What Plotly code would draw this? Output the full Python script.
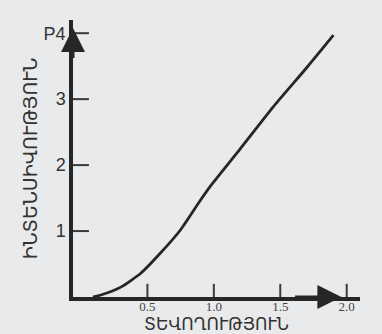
import plotly.graph_objects as go

# data
T = [0.09, 0.15, 0.30, 0.45, 0.60, 0.75, 0.90, 0.97, 1.20, 1.45, 1.70, 1.90]
P = [0.00, 0.03, 0.15, 0.36, 0.67, 1.02, 1.47, 1.67, 2.25, 2.89, 3.48, 3.97]
x_ticks = [0.5, 1.0, 1.5, 2.0]
x_tick_text = ["0.5", "1.0", "1.5", "2.0"]
y_ticks = [1, 2, 3, 4]
y_tick_text = ["1", "2", "3", "P4"]
x_title = "ՏԵՎՈՂՈՒԹՅՈՒՆ"
y_title = "ԻՆՏԵՆՍԻՎՈՒԹՅՈՒՆ"

ink = "#262626"
tick_ink = "#3a3a3a"
bg = "#e9eaec"
x0_axis = -0.06

fig = go.Figure()
fig.add_trace(go.Scatter(x=T, y=P, mode="lines",
                         line=dict(color=ink, width=2.8, shape="spline", smoothing=0.6),
                         hoverinfo="skip", showlegend=False))

# tick marks drawn from the tick arrays, pointing into the plot like the original
for v in x_ticks:
    fig.add_trace(go.Scatter(x=[v, v], y=[0, 0.2], mode="lines",
                             line=dict(color=tick_ink, width=2),
                             hoverinfo="skip", showlegend=False))
for v in y_ticks:
    fig.add_trace(go.Scatter(x=[x0_axis, x0_axis + 0.12], y=[v, v], mode="lines",
                             line=dict(color=tick_ink, width=2),
                             hoverinfo="skip", showlegend=False))

fig.update_layout(
    width=382, height=334,
    margin=dict(l=73, r=22, t=20, b=37),
    paper_bgcolor=bg, plot_bgcolor=bg,
    xaxis=dict(range=[x0_axis, 2.1], showgrid=False, zeroline=False, automargin=False,
               showline=True, linecolor=ink, linewidth=3.5, ticks="",
               tickvals=x_ticks, ticktext=x_tick_text, ticklabelstandoff=-5,
               tickfont=dict(family="Liberation Serif", size=13, color="#444"),
               title=dict(text=x_title, standoff=9,
                          font=dict(family="DejaVu Sans", size=17, color="#333"))),
    yaxis=dict(range=[0, 4.2], showgrid=False, zeroline=False, automargin=False,
               showline=True, linecolor=ink, linewidth=3.5, ticks="",
               tickvals=y_ticks, ticktext=y_tick_text,
               tickfont=dict(family="Liberation Sans", size=18, color="#333"),
               title=dict(text=y_title, standoff=2,
                          font=dict(family="DejaVu Sans", size=19, color="#333"))),
)

# arrowheads on the axes
fig.add_annotation(x=x0_axis, y=4.08, ax=x0_axis, ay=3.6, xref="x", yref="y",
                   axref="x", ayref="y", text="", showarrow=True,
                   arrowhead=2, arrowsize=1.6, arrowwidth=3, arrowcolor=ink)
fig.add_annotation(x=1.96, y=0, ax=1.6, ay=0, xref="x", yref="y",
                   axref="x", ayref="y", text="", showarrow=True,
                   arrowhead=2, arrowsize=1.6, arrowwidth=3, arrowcolor=ink)
fig.add_annotation(x=2.14, y=0.09, xref="x", yref="y", text="T", showarrow=False,
                   font=dict(family="Liberation Sans", size=19, color="#333"))

fig.write_html("out.html")
